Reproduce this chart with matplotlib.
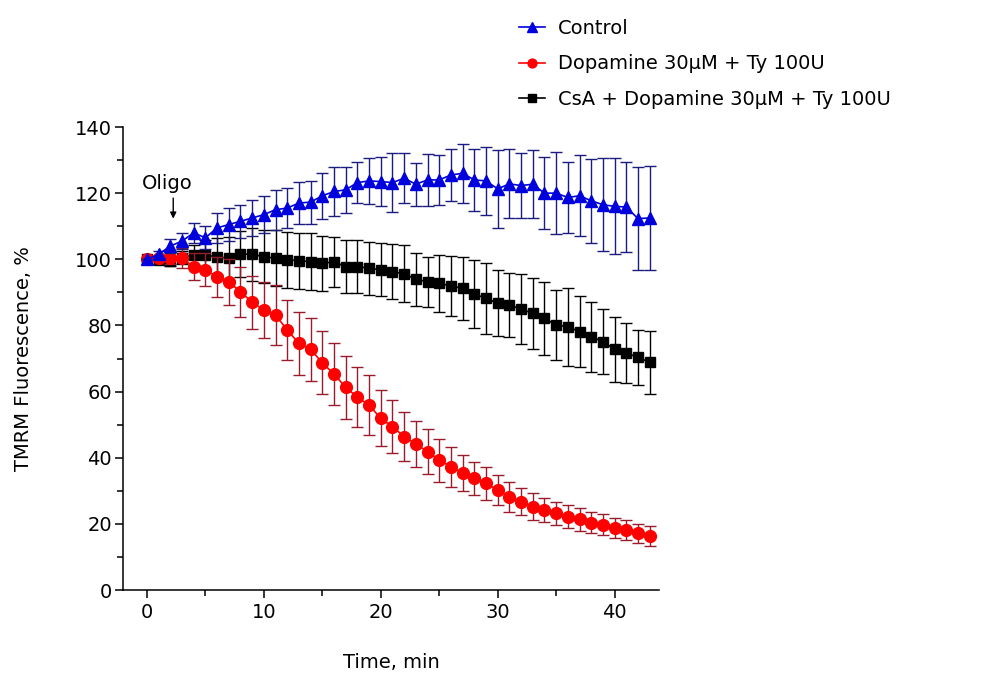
import numpy as np
import matplotlib
matplotlib.use("Agg")
import matplotlib.pyplot as plt
from matplotlib.ticker import MultipleLocator

# time points (min)
time = list(range(0, 44))

control = [100, 101.5, 104, 105.5, 108, 106.5, 109.5, 110.5, 111.5, 112.5,
           113.5, 115, 115.5, 117, 117.3, 119.2, 120.5, 121, 123.2, 123.7,
           123.5, 123.2, 124.5, 122.7, 124, 124, 125.5, 126, 124, 123.7,
           121.3, 122.8, 122.3, 122.7, 120, 120, 118.7, 119.2, 117.7, 116.5,
           116, 115.8, 112.3, 112.5]
control_err = [0, 1, 2, 2.5, 3, 3.5, 4.5, 5, 5, 5.5,
               5.5, 6, 6, 6.3, 6.5, 7, 7.5, 7, 6.3, 7,
               7.5, 9, 7.5, 6.5, 7.8, 7.5, 8, 9, 9.5, 10.3,
               11.8, 10.4, 9.8, 10.3, 10.8, 12.5, 10.6, 12.2, 12.7, 14,
               14.5, 13.6, 15.6, 15.6]

dopa = [100, 100.4, 100.5, 100.3, 97.8, 96.8, 94.7, 93.2, 90.2, 87,
        84.7, 83.2, 78.6, 74.6, 72.8, 68.7, 65.3, 61.3, 58.3, 55.9,
        51.9, 49.4, 46.4, 44.2, 41.8, 39.3, 37.3, 35.3, 33.8, 32.3,
        30.2, 28.2, 26.7, 25.2, 24.2, 23.2, 22.2, 21.4, 20.4, 19.7,
        18.8, 18.1, 17.1, 16.4]
dopa_err = [0, 1, 2, 3, 4, 5, 6, 7, 7.5, 8,
            8.5, 9, 9, 9.5, 9.5, 9.5, 9.5, 9.5, 9, 9,
            8.5, 8, 7.5, 7, 6.8, 6.5, 6, 5.5, 5, 5,
            4.5, 4.5, 4, 4, 3.5, 3.5, 3.5, 3.5, 3.2, 3.2,
            3, 3, 3, 3]

csa = [100, 99.7, 99.5, 100.5, 101.3, 101.2, 100.8, 100.3, 101.6, 101.5,
       100.8, 100.3, 99.8, 99.6, 99.3, 98.8, 99.2, 97.8, 97.8, 97.3,
       96.8, 96.3, 95.6, 94, 93.2, 92.7, 92, 91.2, 89.5, 88.2,
       86.7, 86.2, 84.9, 83.7, 82.2, 80.1, 79.6, 78.1, 76.6, 75.1,
       72.8, 71.6, 70.4, 68.8]
csa_err = [0, 1, 1.5, 2, 3, 4.5, 5.5, 6.5, 7, 8,
           8, 8.5, 8.5, 8.5, 8.5, 8.3, 7.5, 8, 8, 8,
           8, 8.3, 8.6, 8, 7.6, 8.5, 9, 9.6, 10.3, 10.8,
           10, 9.8, 10.6, 10.7, 11, 10.6, 11.8, 10.8, 10.6, 9.8,
           9.8, 9, 8.3, 9.5]

labels = ["Control", "Dopamine 30\u03bcM + Ty 100U", "CsA + Dopamine 30\u03bcM + Ty 100U"]

plt.rcParams["font.family"] = ["DejaVu Sans"]
fig = plt.figure(figsize=(9.94, 6.81), dpi=100)
ax = fig.add_axes([0.1237, 0.1336, 0.5393, 0.6799])

series = [
    (csa, csa_err, "black", "black", "s", 7, labels[2]),
    (dopa, dopa_err, "#ff0000", "#9a1c2c", "o", 8.5, labels[1]),
    (control, control_err, "#0000dd", "#1c1c80", "^", 9, labels[0]),
]
handles = {}
for vals, err, col, ecol, mk, ms, lab in series:
    ax.errorbar(time, vals, yerr=err, fmt="none", ecolor=ecol, elinewidth=1.0,
                capsize=4, capthick=1.0)
    h, = ax.plot(time, vals, color=col, marker=mk, markersize=ms, lw=1.2,
                 markeredgecolor=col, label=lab)
    handles[lab] = h

ax.set_xlim(-2.05, 43.8)
ax.set_ylim(0, 140)
ax.xaxis.set_major_locator(MultipleLocator(10))
ax.xaxis.set_minor_locator(MultipleLocator(5))
ax.yaxis.set_major_locator(MultipleLocator(20))
ax.yaxis.set_minor_locator(MultipleLocator(10))
ax.tick_params(which="major", direction="out", length=6, width=1.1, labelsize=14)
ax.tick_params(axis="y", which="major", pad=2)
ax.tick_params(which="minor", direction="out", length=4, width=1.1)
ax.spines["top"].set_visible(False)
ax.spines["right"].set_visible(False)
for s in ["left", "bottom"]:
    ax.spines[s].set_linewidth(1.1)

ax.set_xlabel("Time, min", fontsize=14, labelpad=22)
ax.set_ylabel("TMRM Fluorescence, %", fontsize=14, labelpad=30)

ax.text(1.7, 122.8, "Oligo", ha="center", va="center", fontsize=14)
ax.annotate("", xy=(2.25, 112.3), xytext=(2.25, 118.5),
            arrowprops=dict(arrowstyle="-|>", color="black", lw=1,
                            mutation_scale=9, shrinkA=0, shrinkB=0))

fig.legend([handles[l] for l in labels], labels, loc="upper left",
           bbox_to_anchor=(0.505, 0.998), frameon=False, fontsize=14,
           handlelength=1.3, handletextpad=0.7, labelspacing=0.85, markerscale=0.75)

fig.savefig("out.png", dpi=100)
